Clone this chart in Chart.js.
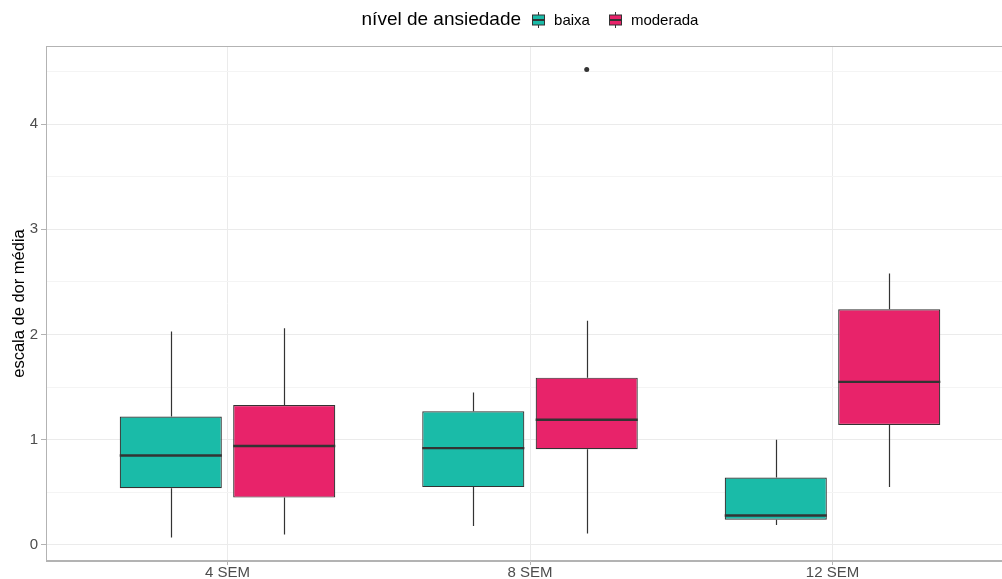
<!DOCTYPE html>
<html>
<head>
<meta charset="utf-8">
<script src="https://cdn.jsdelivr.net/npm/chart.js@4.4.0/dist/chart.umd.min.js"></script>
<style>
  html, body { margin: 0; padding: 0; background: #fff; overflow: hidden; }
  #wrap { width: 1016px; height: 579px; }
</style>
</head>
<body>
<div id="wrap"><canvas id="boxChart" width="1016" height="579"></canvas></div>
<script>
// dados
var semanas = ['4 SEM', '8 SEM', '12 SEM'];
var grupos = ['baixa', 'moderada'];
var cores = ['#1abba8', '#e8236a'];

var baixaMin = [0.07, 0.18, 0.19];
var baixaQ1 = [0.54, 0.55, 0.24];
var baixaMed = [0.85, 0.92, 0.28];
var baixaQ3 = [1.22, 1.27, 0.64];
var baixaMax = [2.03, 1.45, 1.00];
var baixaOut = [[], [], []];

var modMin = [0.10, 0.11, 0.55];
var modQ1 = [0.45, 0.91, 1.14];
var modMed = [0.94, 1.19, 1.55];
var modQ3 = [1.33, 1.59, 2.24];
var modMax = [2.06, 2.13, 2.58];
var modOut = [[], [4.52], []];

var yTicks = [0, 1, 2, 3, 4];

var stats = [
    { min: baixaMin, q1: baixaQ1, med: baixaMed, q3: baixaQ3, max: baixaMax, out: baixaOut },
    { min: modMin, q1: modQ1, med: modMed, q3: modQ3, max: modMax, out: modOut }
];

function boxData(s) {
    return semanas.map(function (_, i) {
        return { x: i + 1, y: [s.q1[i], s.q3[i]] };
    });
}

var LINE = '#333333';
var FONT = "'Liberation Sans', Arial, sans-serif";

// bigodes, mediana e outliers desenhados sobre as barras flutuantes
var boxplotPlugin = {
    id: 'boxplotExtras',
    afterDatasetsDraw: function (chart) {
        var ctx = chart.ctx;
        var y = chart.scales.y;
        ctx.save();
        chart.data.datasets.forEach(function (ds, di) {
            var s = stats[di];
            chart.getDatasetMeta(di).data.forEach(function (bar, i) {
                var cx = Math.round(bar.x) + 0.5;
                var half = bar.width / 2;
                ctx.strokeStyle = LINE;
                ctx.lineWidth = 1.2;
                ctx.beginPath();
                ctx.moveTo(cx, y.getPixelForValue(s.q3[i]));
                ctx.lineTo(cx, y.getPixelForValue(s.max[i]));
                ctx.moveTo(cx, y.getPixelForValue(s.q1[i]));
                ctx.lineTo(cx, y.getPixelForValue(s.min[i]));
                ctx.stroke();
                ctx.lineWidth = 2.4;
                var my = y.getPixelForValue(s.med[i]);
                ctx.beginPath();
                ctx.moveTo(bar.x - half, my);
                ctx.lineTo(bar.x + half, my);
                ctx.stroke();
                ctx.fillStyle = LINE;
                s.out[i].forEach(function (v) {
                    ctx.beginPath();
                    ctx.arc(bar.x, y.getPixelForValue(v), 2.5, 0, Math.PI * 2);
                    ctx.fill();
                });
            });
        });
        // borda do painel
        var a = chart.chartArea;
        ctx.strokeStyle = '#b3b3b3';
        ctx.lineWidth = 1;
        ctx.strokeRect(a.left + 0.5, a.top + 0.5, a.right - a.left - 1, a.bottom - a.top - 1);

        // legenda estilo ggplot
        var cyL = 20;
        var title = 'nível de ansiedade';
        ctx.font = '19px ' + FONT;
        var tw = ctx.measureText(title).width;
        ctx.font = '15px ' + FONT;
        var lw = grupos.map(function (g) { return ctx.measureText(g).width; });
        var icon = 12, gapT = 11, gapI = 10, gapG = 19;
        var total = tw + gapT + (icon + gapI) * 2 + lw[0] + gapG + lw[1];
        var x0 = (a.left + a.right) / 2 - total / 2;
        ctx.textBaseline = 'middle';
        ctx.textAlign = 'left';
        ctx.fillStyle = '#000';
        ctx.font = '19px ' + FONT;
        ctx.fillText(title, x0, cyL);
        var x = x0 + tw + gapT;
        ctx.font = '15px ' + FONT;
        grupos.forEach(function (g, gi) {
            var ix = Math.round(x) + 0.5;
            ctx.strokeStyle = LINE;
            ctx.lineWidth = 1;
            ctx.beginPath();
            ctx.moveTo(ix + icon / 2, cyL - 8);
            ctx.lineTo(ix + icon / 2, cyL + 8);
            ctx.stroke();
            ctx.fillStyle = cores[gi];
            ctx.fillRect(ix, cyL - 5, icon, 10);
            ctx.strokeRect(ix, cyL - 5, icon, 10);
            ctx.lineWidth = 2;
            ctx.beginPath();
            ctx.moveTo(ix, cyL);
            ctx.lineTo(ix + icon, cyL);
            ctx.stroke();
            ctx.fillStyle = '#000';
            ctx.fillText(g, x + icon + gapI, cyL + 1);
            x += icon + gapI + lw[gi] + gapG;
        });
        ctx.restore();
    }
};

var ctx = document.getElementById('boxChart').getContext('2d');
var boxChart = new Chart(ctx, {
    type: 'bar',
    data: {
        datasets: grupos.map(function (g, gi) {
            return {
                label: g,
                data: boxData(stats[gi]),
                backgroundColor: cores[gi],
                borderColor: LINE,
                borderWidth: 1.2,
                borderSkipped: false,
                categoryPercentage: 0.75,
                barPercentage: 0.9
            };
        })
    },
    options: {
        responsive: false,
        animation: false,
        layout: { padding: { top: 46, right: 2, left: 0, bottom: 0 } },
        plugins: {
            legend: { display: false },
            tooltip: { enabled: false }
        },
        scales: {
            x: {
                type: 'linear',
                min: 0.4,
                max: 3.6,
                offset: false,
                afterBuildTicks: function (scale) {
                    scale.ticks = semanas.map(function (_, i) { return { value: i + 1 }; });
                },
                afterFit: function (scale) { scale.height = 18; },
                ticks: {
                    autoSkip: false,
                    maxRotation: 0,
                    padding: -1,
                    color: '#4d4d4d',
                    font: { family: FONT, size: 15 },
                    callback: function (value) { return semanas[value - 1]; }
                },
                grid: { offset: false, color: '#ebebeb', tickColor: '#b3b3b3', tickLength: 4 },
                border: { color: '#b3b3b3' }
            },
            y: {
                min: -0.1525,
                max: 4.7425,
                afterBuildTicks: function (scale) {
                    var t = [];
                    yTicks.forEach(function (v) {
                        t.push({ value: v });
                        if (v + 0.5 < scale.max) t.push({ value: v + 0.5 });
                    });
                    scale.ticks = t;
                },
                afterFit: function (scale) { scale.width = 46; },
                ticks: {
                    padding: 3,
                    color: '#4d4d4d',
                    font: { family: FONT, size: 15 },
                    callback: function (value) { return Number.isInteger(value) ? value : ''; }
                },
                grid: {
                    color: function (c) { return c.tick && Number.isInteger(c.tick.value) ? '#ebebeb' : '#f4f4f4'; },
                    tickColor: function (c) { return c.tick && Number.isInteger(c.tick.value) ? '#b3b3b3' : 'rgba(0,0,0,0)'; },
                    tickLength: 5
                },
                border: { color: '#b3b3b3' },
                title: {
                    display: true,
                    text: 'escala de dor média',
                    color: '#000',
                    padding: { top: 10, bottom: 0 },
                    font: { family: FONT, size: 16.5 }
                }
            }
        }
    },
    plugins: [boxplotPlugin]
});
</script>
</body>
</html>
